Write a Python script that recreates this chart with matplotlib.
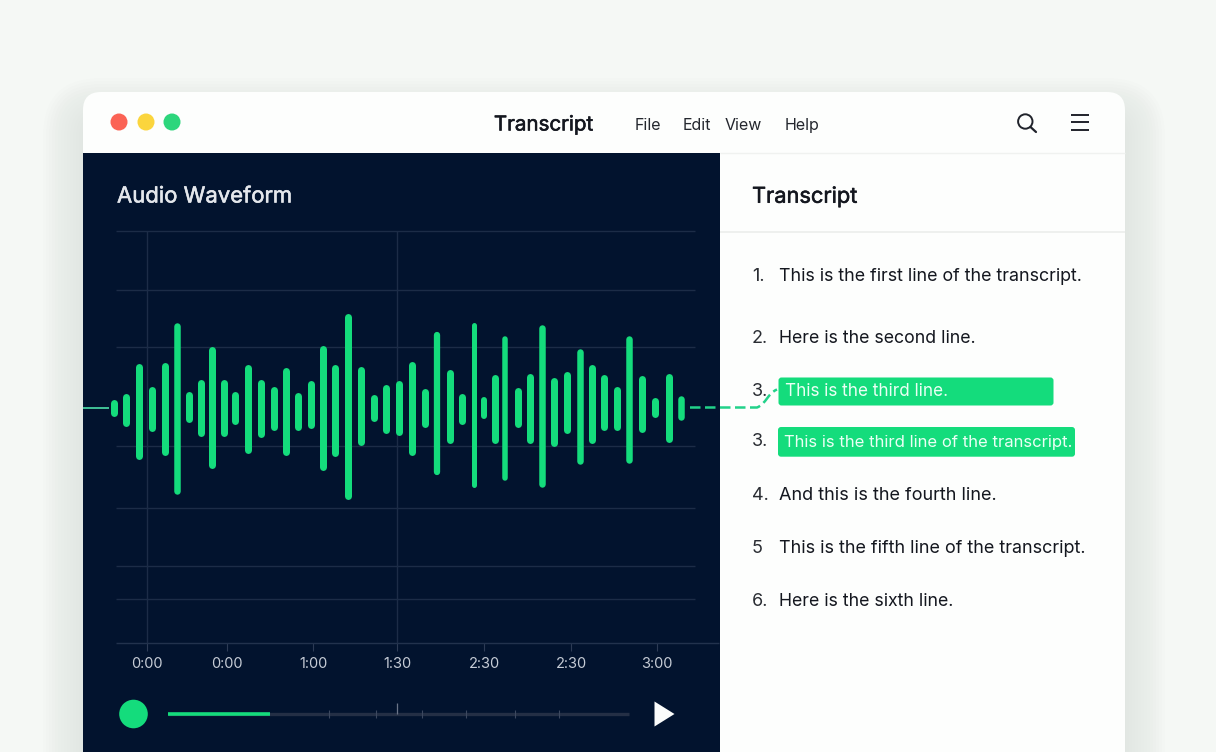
import matplotlib
matplotlib.use('Agg')
import matplotlib.pyplot as plt
import matplotlib.patheffects as pe
from matplotlib.patches import FancyBboxPatch, Rectangle, Circle, Polygon
from matplotlib.path import Path
from matplotlib.patches import PathPatch

plt.rcParams['font.family'] = ['Inter', 'DejaVu Sans']

# waveform, time in seconds on the axis, amplitude above and below the centre line
bar_t = [-11.6, -7.1, -2.8, 1.8, 6.5, 10.8, 15.0, 19.3, 23.1, 27.2, 31.3, 35.7, 40.3, 44.9, 49.2, 53.3,
         57.9, 62.1, 66.6, 71.0, 75.5, 80.1, 84.6, 89.1, 93.7, 98.1, 102.5, 106.9, 111.1, 115.4, 119.0,
         122.8, 126.4, 131.0, 135.3, 139.5, 143.7, 148.4, 152.7, 157.0, 161.4, 165.9, 170.2, 174.7,
         179.3, 184.1, 188.4]
amp_up = [8.7, 14.3, 44.3, 21.3, 46, 85.7, 16.3, 28.7, 61.3, 28.7, 16.7, 43.7, 28.7, 22, 41, 15.7,
          28, 63, 43.3, 94.7, 41.7, 13.7, 23.3, 27.7, 46.3, 19.7, 75.7, 38.7, 14.7, 85.7, 10.7,
          33.7, 71.7, 20.3, 34.3, 83, 30.7, 36.7, 59, 43.3, 33.7, 21.3, 72, 33, 10.7, 34.3, 12]
amp_down = [8.7, 18.7, 51.7, 23, 47, 86.7, 14.7, 28, 60.7, 28.7, 16, 45, 29, 22.3, 47.3, 22.7,
            20.7, 62.3, 48, 91.3, 37, 13.7, 25, 27.7, 47.7, 19, 67.3, 35, 16.3, 79.3, 11,
            35.7, 72.7, 19.3, 35, 79.7, 38, 25.3, 56.3, 35, 22.3, 22.3, 55, 24.7, 9, 34.3, 12]
bar_w = [7, 7, 7, 7, 7, 6.5, 7, 7, 7, 7, 7, 7, 7, 7, 7, 7,
         7, 7, 7, 7, 7, 7, 7, 7, 7, 7, 6.3, 7, 7, 5, 6,
         7, 5.5, 7, 7, 6.5, 7, 7, 6.5, 7, 7, 7, 6.5, 7, 7, 7, 6.5]

tick_t = [0, 28.4, 58.8, 88.5, 119.1, 149.8, 180]
tick_labels = ['0:00', '0:00', '1:00', '1:30', '2:30', '2:30', '3:00']
grid_y = [177, 118, 61, -38, -100, -158, -191]
grid_t = [0, 88.5]

transcript_nums = ['1.', '2.', '3.', '3.', '4.', '5', '6.']
transcript_text = ['This is the first line of the transcript.', 'Here is the second line.',
                   'This is the third line.', 'This is the third line of the transcript.',
                   'And this is the fourth line.', 'This is the fifth line of the transcript.',
                   'Here is the sixth line.']
transcript_y = [276.5, 338.5, 391, 442, 495.5, 548.5, 601.5]
transcript_size = [12.85, 12.75, 12.3, 12.0, 13.0, 12.95, 12.75]
menu_items = ['File', 'Edit', 'View', 'Help']
menu_x = [648, 697, 743, 802.5]
slider_ticks = [329.4, 376, 422, 466, 515, 559]

NAVY = '#02132e'
GREEN = '#14dc7c'
DARK = '#14171f'
medium = [pe.withStroke(linewidth=0.4, foreground=DARK)]
medium_light = [pe.withStroke(linewidth=0.4, foreground='#e4e7ec')]

fig = plt.figure(figsize=(12.16, 7.52), dpi=100, facecolor='#f5f8f5')
ax = fig.add_axes([0, 0, 1, 1])
ax.set_xlim(0, 1216)
ax.set_ylim(752, 0)
ax.axis('off')

# window shadow, soft and pushed down a bit
for i in range(14):
    grow = 1 + i * 3
    ax.add_patch(FancyBboxPatch((83 - grow, 92 - grow + 26), 1042 + 2 * grow, 760 + grow,
                                boxstyle='round,pad=0,rounding_size=%d' % (18 + grow),
                                fc='#6b716d', ec='none', alpha=0.006))
ax.add_patch(FancyBboxPatch((83, 92), 1042, 760, boxstyle='round,pad=0,rounding_size=18',
                            fc='#fdfefd', ec='none'))
ax.add_patch(Rectangle((83, 153), 636.5, 600, fc=NAVY, ec='none'))
ax.plot([720, 1125], [153, 153], color='#f0f2f0', lw=1, solid_capstyle='butt')
ax.plot([720, 1125], [232, 232], color='#eceeec', lw=1.2, solid_capstyle='butt')

# title bar
for cx, col in zip([119, 146, 172], ['#fb6355', '#fbd53d', '#2dd67c']):
    ax.add_patch(Circle((cx, 122), 8.5, fc=col, ec='none'))
ax.text(543.5, 125.5, 'Transcript', ha='center', va='center', fontsize=14.8, color=DARK, path_effects=medium)
for label, x in zip(menu_items, menu_x):
    ax.text(x, 125.5, label, ha='center', va='center', fontsize=11.5, color='#24272e')
ax.add_patch(Circle((1025.3, 121.5), 7.2, fc='none', ec='#20232b', lw=1.4))
ax.plot([1030.5, 1036], [127, 132], color='#20232b', lw=1.6, solid_capstyle='round')
for y in [115, 122.3, 129.5]:
    ax.plot([1071, 1089], [y, y], color='#20232b', lw=1.4, solid_capstyle='butt')

ax.text(117, 196.5, 'Audio Waveform', ha='left', va='center', fontsize=15.9, color='#e4e7ec', path_effects=medium_light)
ax.text(752, 196.5, 'Transcript', ha='left', va='center', fontsize=15.7, color=DARK, path_effects=medium)

# transcript list
ax.add_patch(FancyBboxPatch((778.5, 377.5), 275, 28, boxstyle='round,pad=0,rounding_size=3', fc=GREEN, ec='none'))
ax.add_patch(FancyBboxPatch((778, 427), 297, 29.7, boxstyle='round,pad=0,rounding_size=3', fc=GREEN, ec='none'))
for i in range(7):
    ax.text(752, transcript_y[i], transcript_nums[i], ha='left', va='center', fontsize=13, color='#2a2d33')
    x, col = 779, DARK
    if i == 2:
        x, col = 785, '#eafff4'
    if i == 3:
        x, col = 783.5, '#eafff4'
    ax.text(x, transcript_y[i], transcript_text[i], ha='left', va='center', fontsize=transcript_size[i], color=col)

# dashed link from the waveform to the transcript
link = Path([(690, 407.5), (757, 407.5), (766, 404), (768, 393), (777, 389.5)],
            [Path.MOVETO, Path.LINETO, Path.CURVE4, Path.CURVE4, Path.CURVE4])
ax.add_patch(PathPatch(link, fc='none', ec='#22d28a', lw=1.8, linestyle=(0, (4.2, 1.8))))
ax.plot([83, 109], [408, 408], color='#46cfa0', lw=1.3, solid_capstyle='butt')

# player controls
ax.add_patch(Circle((133.5, 714), 14.3, fc=GREEN, ec='none'))
ax.plot([168, 628.5], [714, 714], color='#242f45', lw=2.4, solid_capstyle='butt')
ax.plot([168, 269.5], [714, 714], color=GREEN, lw=2.6, solid_capstyle='butt')
ax.vlines(slider_ticks, 710, 718, color='#3c485f', lw=0.8)
ax.vlines([397], 703, 714, color='#6a7488', lw=0.9)
ax.add_patch(Polygon([(654.5, 701.5), (674.5, 714), (654.5, 726.5)], fc='#fbfcfb', ec='none'))

# waveform axes, 0 on y is the centre line
ax_wave = fig.add_axes([83 / 1216, (752 - 643) / 752, 636 / 1216, 412 / 752])
ax_wave.patch.set_alpha(0)
ax_wave.set_xlim(-22.39, 201.86)
ax_wave.set_ylim(-235, 177)
for s in ax_wave.spines.values():
    s.set_visible(False)
ax_wave.hlines(grid_y, -10.75, 193.4, color='#1c2c47', lw=1.0, clip_on=False)
ax_wave.hlines([-235], -10.75, 201.86, color='#22324d', lw=1.0, clip_on=False)
ax_wave.vlines(grid_t, -235, 177, color='#1c2c47', lw=1.0)
ax_wave.set_yticks([])
ax_wave.set_xticks(tick_t)
ax_wave.set_xticklabels(tick_labels, fontsize=10.5, color='#c6ccd6')
ax_wave.tick_params(axis='x', length=6, width=0.8, color='#2d3b55', pad=4)
for t, up, down, w in zip(bar_t, amp_up, amp_down, bar_w):
    # round caps add half a width at each end
    ax_wave.plot([t, t], [up - w / 2, -(down - w / 2)], color=GREEN, lw=w * 0.72,
                 solid_capstyle='round', clip_on=False)

fig.savefig('out.png', dpi=100, facecolor=fig.get_facecolor())
